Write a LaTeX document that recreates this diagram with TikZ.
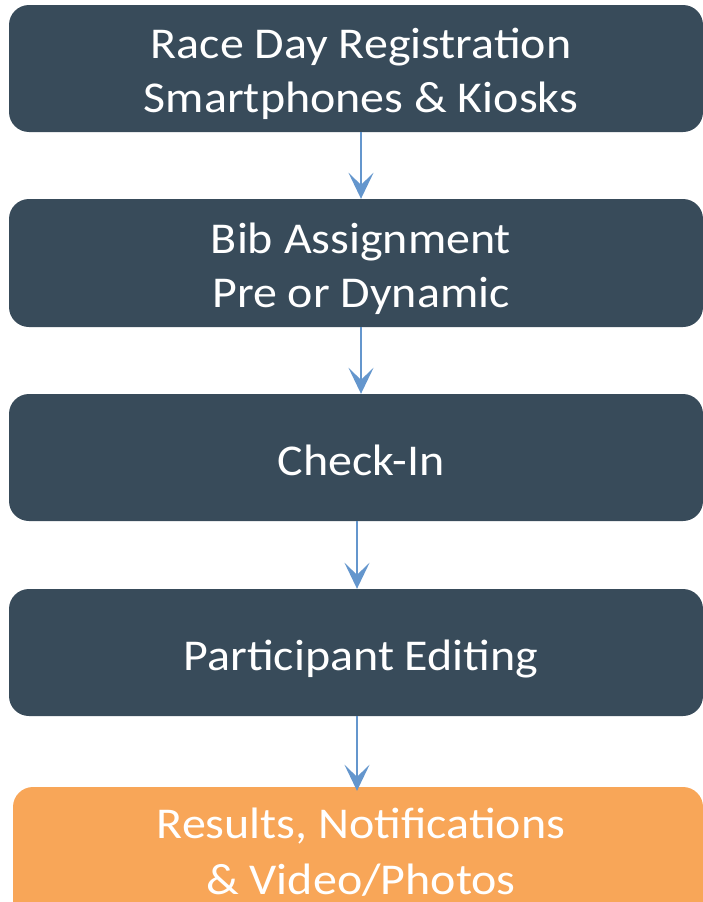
\documentclass[tikz,border=0pt]{standalone}
\usepackage{fontspec}
\setmainfont{Carlito}[FakeStretch=1.09]
\usetikzlibrary{arrows.meta}
\definecolor{slatebox}{RGB}{56,75,90}
\definecolor{orangebox}{RGB}{248,166,88}
\definecolor{arrowblue}{RGB}{100,150,205}
\begin{document}
\begin{tikzpicture}[x=1pt,y=-1pt,
  stepbox/.style={fill=slatebox, rounded corners=20pt, inner sep=0pt, minimum width=694pt, minimum height=127pt},
  txt/.style={text=white, font=\fontsize{44}{54}\selectfont, anchor=base, inner sep=0pt},
  arr/.style={draw=arrowblue, line width=2pt, -{Stealth[length=26pt,width=25pt,inset=12pt]}}]
\useasboundingbox (0,0) rectangle (703,902);
\begin{scope}
\clip (0,0) rectangle (703,902);
\node[stepbox] (b1) at (356,68.5) {};
\node[stepbox, minimum height=128pt] (b2) at (356,263) {};
\node[stepbox] (b3) at (356,457.5) {};
\node[stepbox] (b4) at (356,652.5) {};
\node[stepbox, fill=orangebox, minimum width=690pt, minimum height=138pt] (b5) at (358,856) {};
\end{scope}
\node[txt] (t1a) at (361,58) {Race Day Registration};
\node[txt] (t1b) at (361,112) {Smartphones \& Kiosks};
\node[txt] (t2a) at (361,253) {Bib Assignment};
\node[txt] (t2b) at (361,307) {Pre or Dynamic};
\node[txt] (t3) at (361,475) {Check-In};
\node[txt] (t4) at (361,670) {Participant Editing};
\node[txt] (t5a) at (361,838) {Results, Notifications};
\node[txt] (t5b) at (361,894) {\& Video/Photos};
\coordinate (ax1) at (361,0);
\coordinate (ax2) at (357,0);
\draw[arr] (b1.south -| ax1) -- (b2.north -| ax1);
\draw[arr] (b2.south -| ax1) -- (b3.north -| ax1);
\draw[arr] (b3.south -| ax2) -- (b4.north -| ax2);
\draw[arr] (b4.south -| ax2) -- ([yshift=-4pt]b5.north -| ax2);
\end{tikzpicture}
\end{document}
